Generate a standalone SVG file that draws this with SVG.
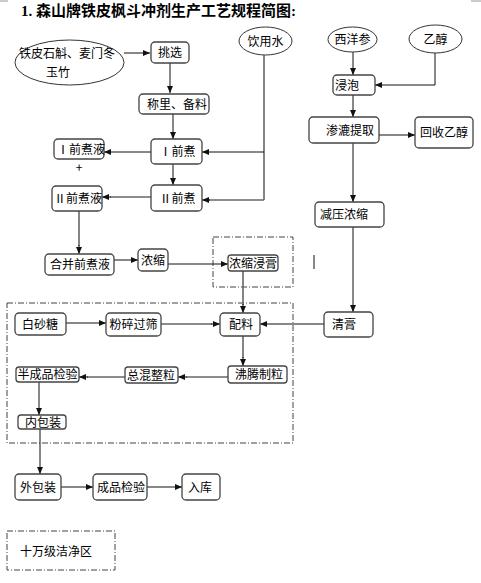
<svg xmlns="http://www.w3.org/2000/svg" width="481" height="583" viewBox="0 0 481 583">
<style>
.bg{fill:#fff}
.box{fill:#fff;stroke:#444;stroke-width:1.3}
.ell{fill:#fff;stroke:#333;stroke-width:1}
.t{font-family:"Noto Sans CJK SC","Liberation Sans",sans-serif;font-size:12px;fill:#000}
.title{font-family:"Liberation Serif","Noto Sans CJK SC",serif;font-size:15px;font-weight:bold;fill:#000}
.c{fill:none;stroke:#111;stroke-width:1}
.g{fill:none;stroke:#666;stroke-width:1.6}
.zone{fill:none;stroke:#444;stroke-width:1;stroke-dasharray:6,2,1,2}
</style>
<defs>
<marker id="ar" markerUnits="userSpaceOnUse" markerWidth="7" markerHeight="6" refX="7" refY="3" orient="auto">
<path d="M0,0 L7,3 L0,6 z" fill="#111"/>
</marker>
</defs>
<rect class="bg" x="0" y="0" width="481" height="583"/>
<rect x="0" y="0" width="8" height="2" fill="#ccc"/>
<rect x="471" y="0" width="10" height="2" fill="#ccc"/>
<text class="title" x="21" y="16">1. 森山牌铁皮枫斗冲剂生产工艺规程简图:</text>

<g id="zones">
<rect class="zone" x="213" y="237" width="80" height="50"/>
<rect class="zone" x="7" y="303" width="286" height="140"/>
</g>

<g id="connectors">
<path class="c" d="M124,53 H150" marker-end="url(#ar)"/>
<path class="c" d="M170,63 V93" marker-end="url(#ar)"/>
<path class="c" d="M173,114 V139" marker-end="url(#ar)"/>
<path class="g" d="M264,55 V200"/>
<path class="c" d="M264,152 H202" marker-end="url(#ar)"/>
<path class="g" d="M264,200 H209"/>
<path class="c" d="M210,200 H202" marker-end="url(#ar)"/>
<path class="c" d="M151,152 H104" marker-end="url(#ar)"/>
<path class="c" d="M173,164 V185" marker-end="url(#ar)"/>
<path class="g" d="M151,197 H110"/>
<path class="c" d="M111,197 H102" marker-end="url(#ar)"/>
<path class="g" d="M79,211 V246"/>
<path class="c" d="M79,245 V254" marker-end="url(#ar)"/>
<path class="c" d="M114,260 H138" marker-end="url(#ar)"/>
<path class="c" d="M168,264 H228" marker-end="url(#ar)"/>
<path class="g" d="M243,271 V305"/>
<path class="c" d="M243,304 V313" marker-end="url(#ar)"/>
<path class="c" d="M353,52 V75" marker-end="url(#ar)"/>
<path class="c" d="M435,53 V85 H375" marker-end="url(#ar)"/>
<path class="c" d="M353,95 V117" marker-end="url(#ar)"/>
<path class="c" d="M379,135 H415" marker-end="url(#ar)"/>
<path class="c" d="M353,143 V202" marker-end="url(#ar)"/>
<path class="c" d="M353,227 V312" marker-end="url(#ar)"/>
<path class="c" d="M324,324 H260" marker-end="url(#ar)"/>
<path class="c" d="M66,323 H106" marker-end="url(#ar)"/>
<path class="g" d="M161,324 H212"/>
<path class="c" d="M211,324 H220" marker-end="url(#ar)"/>
<path class="g" d="M243,336 V358"/>
<path class="c" d="M243,357 V366" marker-end="url(#ar)"/>
<path class="g" d="M228,377 H186"/>
<path class="c" d="M187,377 H178" marker-end="url(#ar)"/>
<path class="g" d="M125,377 H87"/>
<path class="c" d="M88,377 H79" marker-end="url(#ar)"/>
<path class="c" d="M39,382 V415" marker-end="url(#ar)"/>
<path class="c" d="M40,429 V474" marker-end="url(#ar)"/>
<path class="c" d="M61,487 H93" marker-end="url(#ar)"/>
<path class="c" d="M147,487 H182" marker-end="url(#ar)"/>
<path class="c" d="M314,255 V269"/>
</g>

<g id="n-herbs"><ellipse class="ell" cx="69.5" cy="62.5" rx="54.5" ry="22.5"/><text class="t" x="67" y="58" text-anchor="middle">铁皮石斛、麦门冬</text><text class="t" x="58" y="77" text-anchor="middle">玉竹</text></g>
<g id="n-water"><ellipse class="ell" cx="265.5" cy="41" rx="26.5" ry="14"/><text class="t" x="265.5" y="45.5" text-anchor="middle">饮用水</text></g>
<g id="n-ginseng"><ellipse class="ell" cx="352.5" cy="39.5" rx="24.5" ry="12.5"/><text class="t" x="352.5" y="44" text-anchor="middle">西洋参</text></g>
<g id="n-ethanol"><ellipse class="ell" cx="435.5" cy="39" rx="26.5" ry="14"/><text class="t" x="435.5" y="43.5" text-anchor="middle">乙醇</text></g>

<g id="n-select"><rect class="box" x="151" y="42" width="38" height="21" rx="4"/><text class="t" x="170" y="57" text-anchor="middle">挑选</text></g>
<g id="n-weigh"><rect class="box" x="139" y="94" width="70" height="20" rx="4"/><text class="t" x="177" y="108.5" text-anchor="middle">称里、备料</text></g>
<g id="n-dec1"><rect class="box" x="151" y="139" width="51" height="25" rx="4"/><text class="t" x="177.5" y="156" text-anchor="middle">Ⅰ前煮</text></g>
<g id="n-liq1"><rect class="box" x="54" y="139" width="50" height="20" rx="4"/><text class="t" x="81" y="153.5" text-anchor="middle">Ⅰ前煮液</text></g>
<text class="t" x="79" y="172" text-anchor="middle">+</text>
<g id="n-dec2"><rect class="box" x="151" y="185" width="51" height="26" rx="4"/><text class="t" x="177.5" y="202.5" text-anchor="middle">Ⅱ前煮</text></g>
<g id="n-liq2"><rect class="box" x="52" y="186" width="50" height="25" rx="4"/><text class="t" x="78" y="202.5" text-anchor="middle">Ⅱ前煮液</text></g>
<g id="n-merge"><rect class="box" x="45" y="254" width="69" height="21" rx="4"/><text class="t" x="80" y="269" text-anchor="middle">合并前煮液</text></g>
<g id="n-conc"><rect class="box" x="138" y="249" width="30" height="22" rx="4"/><text class="t" x="153" y="264.5" text-anchor="middle">浓缩</text></g>
<g id="n-extract"><rect class="box" x="228" y="255" width="50" height="16" rx="3"/><text class="t" x="253" y="267.5" text-anchor="middle">浓缩浸膏</text></g>
<g id="n-soak"><rect class="box" x="333" y="75" width="42" height="20" rx="4"/><text class="t" x="335" y="89.5">浸泡</text></g>
<g id="n-perc"><rect class="box" x="309" y="117" width="70" height="26" rx="4"/><text class="t" x="326" y="134.5">渗漉提取</text></g>
<g id="n-recover"><rect class="box" x="415" y="117" width="58" height="31" rx="4"/><text class="t" x="444" y="137" text-anchor="middle">回收乙醇</text></g>
<g id="n-vac"><rect class="box" x="315" y="202" width="69" height="25" rx="4"/><text class="t" x="320" y="219">减压浓缩</text></g>
<g id="n-clear"><rect class="box" x="324" y="312" width="49" height="25" rx="4"/><text class="t" x="332" y="329">清膏</text></g>
<g id="n-sugar"><rect class="box" x="15" y="313" width="51" height="22" rx="4"/><text class="t" x="40" y="328.5" text-anchor="middle">白砂糖</text></g>
<g id="n-crush"><rect class="box" x="106" y="313" width="55" height="23" rx="4"/><text class="t" x="133.5" y="329" text-anchor="middle">粉碎过筛</text></g>
<g id="n-mix"><rect class="box" x="220" y="313" width="40" height="23" rx="4"/><text class="t" x="241" y="329" text-anchor="middle">配料</text></g>
<g id="n-gran"><rect class="box" x="228" y="366" width="59" height="17" rx="3"/><text class="t" x="259" y="379" text-anchor="middle">沸腾制粒</text></g>
<g id="n-blend"><rect class="box" x="125" y="367" width="53" height="16" rx="3"/><text class="t" x="151" y="379.5" text-anchor="middle">总混整粒</text></g>
<g id="n-semi"><rect class="box" x="16" y="367" width="63" height="15" rx="3"/><text class="t" x="47.5" y="379" text-anchor="middle">半成品检验</text></g>
<g id="n-inner"><rect class="box" x="18" y="415" width="48" height="14" rx="3"/><text class="t" x="43" y="427" text-anchor="middle">内包装</text></g>
<g id="n-outer"><rect class="box" x="15" y="474" width="46" height="26" rx="4"/><text class="t" x="38" y="491.5" text-anchor="middle">外包装</text></g>
<g id="n-final"><rect class="box" x="93" y="474" width="54" height="26" rx="4"/><text class="t" x="121" y="491.5" text-anchor="middle">成品检验</text></g>
<g id="n-store"><rect class="box" x="182" y="474" width="38" height="26" rx="4"/><text class="t" x="200" y="491.5" text-anchor="middle">入库</text></g>
<g id="legend"><rect class="zone" x="7" y="531" width="108" height="39"/><text class="t" x="20" y="556">十万级洁净区</text></g>
</svg>
